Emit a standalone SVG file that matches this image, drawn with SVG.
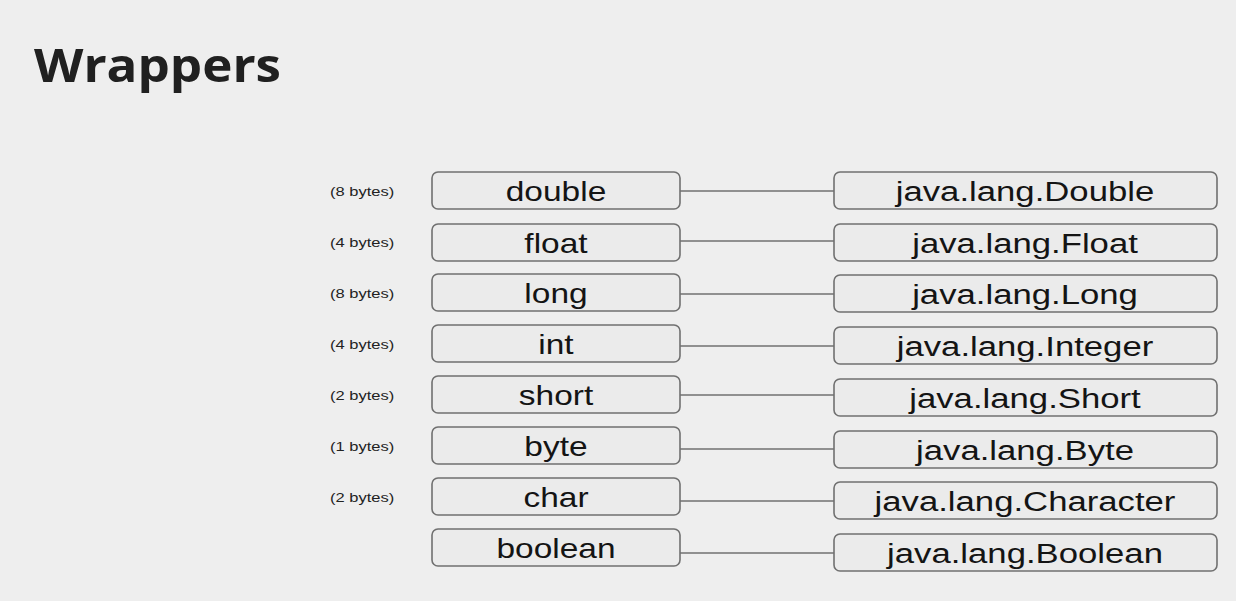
<svg xmlns="http://www.w3.org/2000/svg" width="1236" height="601" viewBox="0 0 1236 601">
<style>
.bg{fill:#eeeeee}
.box{fill:#ebebeb;stroke:#707070;stroke-width:1.6}
.conn line{stroke:#707070;stroke-width:1.6}
.t{font-family:"Liberation Sans",Arial,sans-serif;fill:#141414;text-anchor:middle}
.pt{font-size:27px}
.wt{font-size:28px}
.sz{font-family:"Liberation Sans",Arial,sans-serif;font-size:13px;fill:#222}
.title{font-family:"Open Sans","Noto Sans",sans-serif;font-weight:bold;font-size:46px;fill:#202020}
</style>
<rect class="bg" x="0" y="0" width="1236" height="601"/>
<text class="title" x="34" y="82" textLength="247" lengthAdjust="spacingAndGlyphs">Wrappers</text>
<g id="connectors" class="conn">
<line x1="680" y1="191" x2="834" y2="191"/>
<line x1="680" y1="241" x2="834" y2="241"/>
<line x1="680" y1="294" x2="834" y2="294"/>
<line x1="680" y1="346" x2="834" y2="346"/>
<line x1="680" y1="395" x2="834" y2="395"/>
<line x1="680" y1="449" x2="834" y2="449"/>
<line x1="680" y1="501" x2="834" y2="501"/>
<line x1="680" y1="553" x2="834" y2="553"/>
</g>
<g id="sizes">
<text class="sz" transform="translate(330,196) scale(1.27,1)">(8 bytes)</text>
<text class="sz" transform="translate(330,247) scale(1.27,1)">(4 bytes)</text>
<text class="sz" transform="translate(330,298) scale(1.27,1)">(8 bytes)</text>
<text class="sz" transform="translate(330,349) scale(1.27,1)">(4 bytes)</text>
<text class="sz" transform="translate(330,400) scale(1.27,1)">(2 bytes)</text>
<text class="sz" transform="translate(330,451) scale(1.27,1)">(1 bytes)</text>
<text class="sz" transform="translate(330,502) scale(1.27,1)">(2 bytes)</text>
</g>
<g id="double"><rect class="box" x="432" y="172" width="248" height="37" rx="6"/><text class="t pt" transform="translate(556,200.5) scale(1.24,1)">double</text></g>
<g id="float"><rect class="box" x="432" y="224" width="248" height="37" rx="6"/><text class="t pt" transform="translate(556,252.5) scale(1.24,1)">float</text></g>
<g id="long"><rect class="box" x="432" y="274" width="248" height="37" rx="6"/><text class="t pt" transform="translate(556,302.5) scale(1.24,1)">long</text></g>
<g id="int"><rect class="box" x="432" y="325" width="248" height="37" rx="6"/><text class="t pt" transform="translate(556,353.5) scale(1.24,1)">int</text></g>
<g id="short"><rect class="box" x="432" y="376" width="248" height="37" rx="6"/><text class="t pt" transform="translate(556,404.5) scale(1.24,1)">short</text></g>
<g id="byte"><rect class="box" x="432" y="427" width="248" height="37" rx="6"/><text class="t pt" transform="translate(556,455.5) scale(1.24,1)">byte</text></g>
<g id="char"><rect class="box" x="432" y="478" width="248" height="37" rx="6"/><text class="t pt" transform="translate(556,506.5) scale(1.24,1)">char</text></g>
<g id="boolean"><rect class="box" x="432" y="529" width="248" height="37" rx="6"/><text class="t pt" transform="translate(556,557.5) scale(1.24,1)">boolean</text></g>
<g id="Double"><rect class="box" x="834" y="172" width="383" height="37" rx="6"/><text class="t wt" transform="translate(1025,200.5) scale(1.24,1)">java.lang.Double</text></g>
<g id="Float"><rect class="box" x="834" y="224" width="383" height="37" rx="6"/><text class="t wt" transform="translate(1025,252.5) scale(1.24,1)">java.lang.Float</text></g>
<g id="Long"><rect class="box" x="834" y="275" width="383" height="37" rx="6"/><text class="t wt" transform="translate(1025,304) scale(1.24,1)">java.lang.Long</text></g>
<g id="Integer"><rect class="box" x="834" y="327" width="383" height="37" rx="6"/><text class="t wt" transform="translate(1025,356) scale(1.24,1)">java.lang.Integer</text></g>
<g id="Short"><rect class="box" x="834" y="379" width="383" height="37" rx="6"/><text class="t wt" transform="translate(1025,408) scale(1.24,1)">java.lang.Short</text></g>
<g id="Byte"><rect class="box" x="834" y="431" width="383" height="37" rx="6"/><text class="t wt" transform="translate(1025,460) scale(1.24,1)">java.lang.Byte</text></g>
<g id="Character"><rect class="box" x="834" y="482" width="383" height="37" rx="6"/><text class="t wt" transform="translate(1025,511) scale(1.24,1)">java.lang.Character</text></g>
<g id="Boolean"><rect class="box" x="834" y="534" width="383" height="37" rx="6"/><text class="t wt" transform="translate(1025,563) scale(1.24,1)">java.lang.Boolean</text></g>
</svg>
